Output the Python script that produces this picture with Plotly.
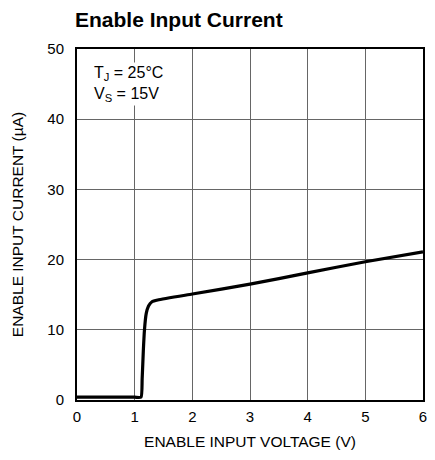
import plotly.graph_objects as go

voltage = [0, 0.5, 1.0, 1.11, 1.13, 1.15, 1.17, 1.2, 1.24, 1.3, 1.4, 2, 3, 4, 5, 6]
current = [0.4, 0.4, 0.4, 0.4, 3.0, 7.0, 10.0, 12.3, 13.4, 14.0, 14.25, 15.1, 16.5, 18.1, 19.7, 21.1]

x_ticks = [0, 1, 2, 3, 4, 5, 6]
y_ticks = [0, 10, 20, 30, 40, 50]

font_family = "Liberation Sans, Arial, sans-serif"

# page body has an 8px margin; the figure is sized so the window shows it whole
W, H = 427, 452

fig = go.Figure()
fig.add_trace(go.Scatter(x=voltage, y=current, mode="lines",
                         line=dict(color="black", width=3.2, shape="spline", smoothing=0.5),
                         showlegend=False, hoverinfo="skip"))

fig.update_layout(
    width=W, height=H,
    margin=dict(l=68, r=8, t=41, b=60),
    paper_bgcolor="white", plot_bgcolor="white",
    font=dict(family=font_family, color="black", size=15),
    title=dict(text="<b>Enable Input Current</b>", x=67 / W, xanchor="left",
               y=1 - 12 / H, yanchor="middle",
               font=dict(size=21, family=font_family, color="black")),
    xaxis=dict(range=[0, 6], tickvals=x_ticks, ticks="outside", ticklen=2,
               tickcolor="rgba(0,0,0,0)", showgrid=True,
               gridcolor="#666666", gridwidth=1, showline=True, linecolor="black",
               linewidth=2, mirror=True, zeroline=False,
               title=dict(text="ENABLE INPUT VOLTAGE (V)", font=dict(size=15.5), standoff=12),
               tickfont=dict(size=15)),
    yaxis=dict(range=[0, 50], tickvals=y_ticks, ticks="outside", ticklen=8,
               tickcolor="rgba(0,0,0,0)", showgrid=True,
               gridcolor="#666666", gridwidth=1, showline=True, linecolor="black",
               linewidth=2, mirror=True, zeroline=False,
               title=dict(text="ENABLE INPUT CURRENT (µA)", font=dict(size=15.5), standoff=20),
               tickfont=dict(size=15)),
)

fig.add_annotation(x=0.26, y=48.1, xref="x", yref="y", xanchor="left", yanchor="top",
                   text="T<sub>J</sub> = 25°C<br>V<sub>S</sub> = 15V", showarrow=False,
                   align="left", bgcolor="white", font=dict(size=16, color="black"))

fig.write_html("out.html")
